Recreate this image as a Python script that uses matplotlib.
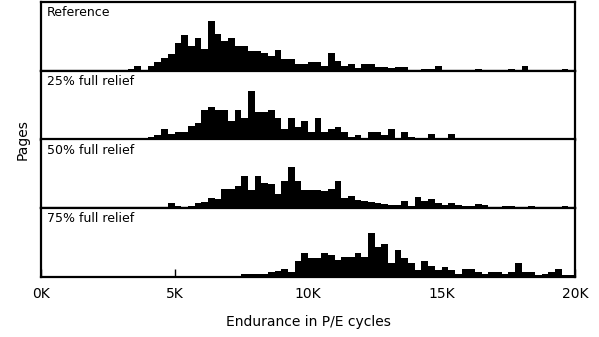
import numpy as np
import matplotlib
matplotlib.use("Agg")
import matplotlib.pyplot as plt

# Histogram bins: 0.25K P/E cycles wide, 0K .. 20K
bin_edges = np.arange(0, 20.0001, 0.25)

panel_labels = ["Reference", "25% full relief", "50% full relief", "75% full relief"]

pages_reference = [
    0, 0, 0, 0, 0, 0, 0, 0, 0, 0, 0, 0, 0, 2, 5, 1, 5, 9, 13, 17,
    28, 36, 25, 33, 22, 50, 37, 30, 33, 25, 25, 20, 20, 18, 15, 21, 12, 12, 7, 7,
    9, 9, 5, 18, 10, 5, 7, 3, 7, 7, 4, 4, 3, 4, 4, 1, 1, 2, 2, 5,
    0, 0, 0, 0, 0, 2, 0, 0, 0, 0, 2, 0, 5, 0, 0, 0, 0, 0, 2, 0,
]
pages_relief_25 = [
    0, 0, 0, 0, 0, 0, 0, 0, 0, 0, 0, 0, 0, 0, 0, 2, 3, 5, 11, 6,
    8, 8, 14, 17, 30, 33, 30, 30, 19, 30, 22, 49, 28, 28, 30, 22, 11, 22, 13, 19,
    8, 22, 8, 11, 13, 8, 3, 5, 2, 8, 8, 5, 11, 1, 8, 3, 1, 1, 6, 0,
    0, 6, 2, 0, 0, 0, 0, 2, 0, 2, 2, 0, 0, 0, 0, 0, 2, 0, 0, 0,
]
pages_relief_50 = [
    0, 0, 0, 0, 0, 0, 0, 0, 0, 0, 0, 0, 0, 0, 0, 0, 0, 0, 0, 5,
    2, 0, 2, 5, 6, 10, 9, 19, 19, 22, 32, 18, 32, 25, 24, 14, 27, 41, 27, 18,
    18, 18, 17, 19, 27, 10, 12, 8, 7, 6, 5, 4, 3, 3, 7, 2, 11, 7, 9, 5,
    3, 5, 3, 2, 2, 4, 3, 1, 1, 2, 2, 0, 1, 2, 0, 0, 0, 0, 2, 0,
]
pages_relief_75 = [
    0, 0, 0, 0, 0, 0, 0, 0, 0, 0, 0, 0, 0, 0, 0, 0, 0, 0, 0, 0,
    0, 0, 0, 0, 0, 0, 0, 0, 0, 0, 3, 3, 3, 3, 5, 6, 8, 5, 16, 24,
    19, 19, 24, 22, 17, 20, 20, 24, 20, 44, 30, 33, 14, 27, 19, 14, 7, 16, 11, 7,
    10, 7, 3, 8, 8, 5, 3, 5, 5, 3, 5, 14, 5, 5, 2, 3, 5, 8, 2, 2,
]
panel_pages = [pages_reference, pages_relief_25, pages_relief_50, pages_relief_75]

x_ticks = [0, 5, 10, 15, 20]
x_tick_labels = ["0K", "5K", "10K", "15K", "20K"]

fig = plt.figure(figsize=(5.99, 3.37), dpi=100)
left, right = 41 / 599, 575 / 599
top, bottom = 1 - 2 / 337, 1 - 277 / 337
panel_h = (top - bottom) / 4

for k, (label, pages) in enumerate(zip(panel_labels, panel_pages)):
    y0 = top - (k + 1) * panel_h
    ax = fig.add_axes([left, y0, right - left, panel_h])
    ax.stairs(pages, bin_edges, fill=True, color="black", linewidth=0)
    ax.set_xlim(0, 20)
    ax.set_ylim(0, 68.75)
    ax.set_yticks([])
    for sp in ax.spines.values():
        sp.set_linewidth(1.6)
        sp.set_color("black")
    ax.text(0.011, 0.94, label, transform=ax.transAxes, ha="left", va="top",
            fontsize=9, color="black")
    if k < 3:
        ax.set_xticks([])
    else:
        ax.set_xticks(x_ticks)
        ax.set_xticklabels(x_tick_labels, fontsize=10)
        ax.tick_params(axis="x", direction="in", length=6, width=1, pad=7)
        ax.set_xlabel("Endurance in P/E cycles", fontsize=10, labelpad=10)

fig.text(0.037, (top + bottom) / 2, "Pages", rotation=90, ha="center", va="center",
         fontsize=10)

fig.savefig("out.png", dpi=100)
